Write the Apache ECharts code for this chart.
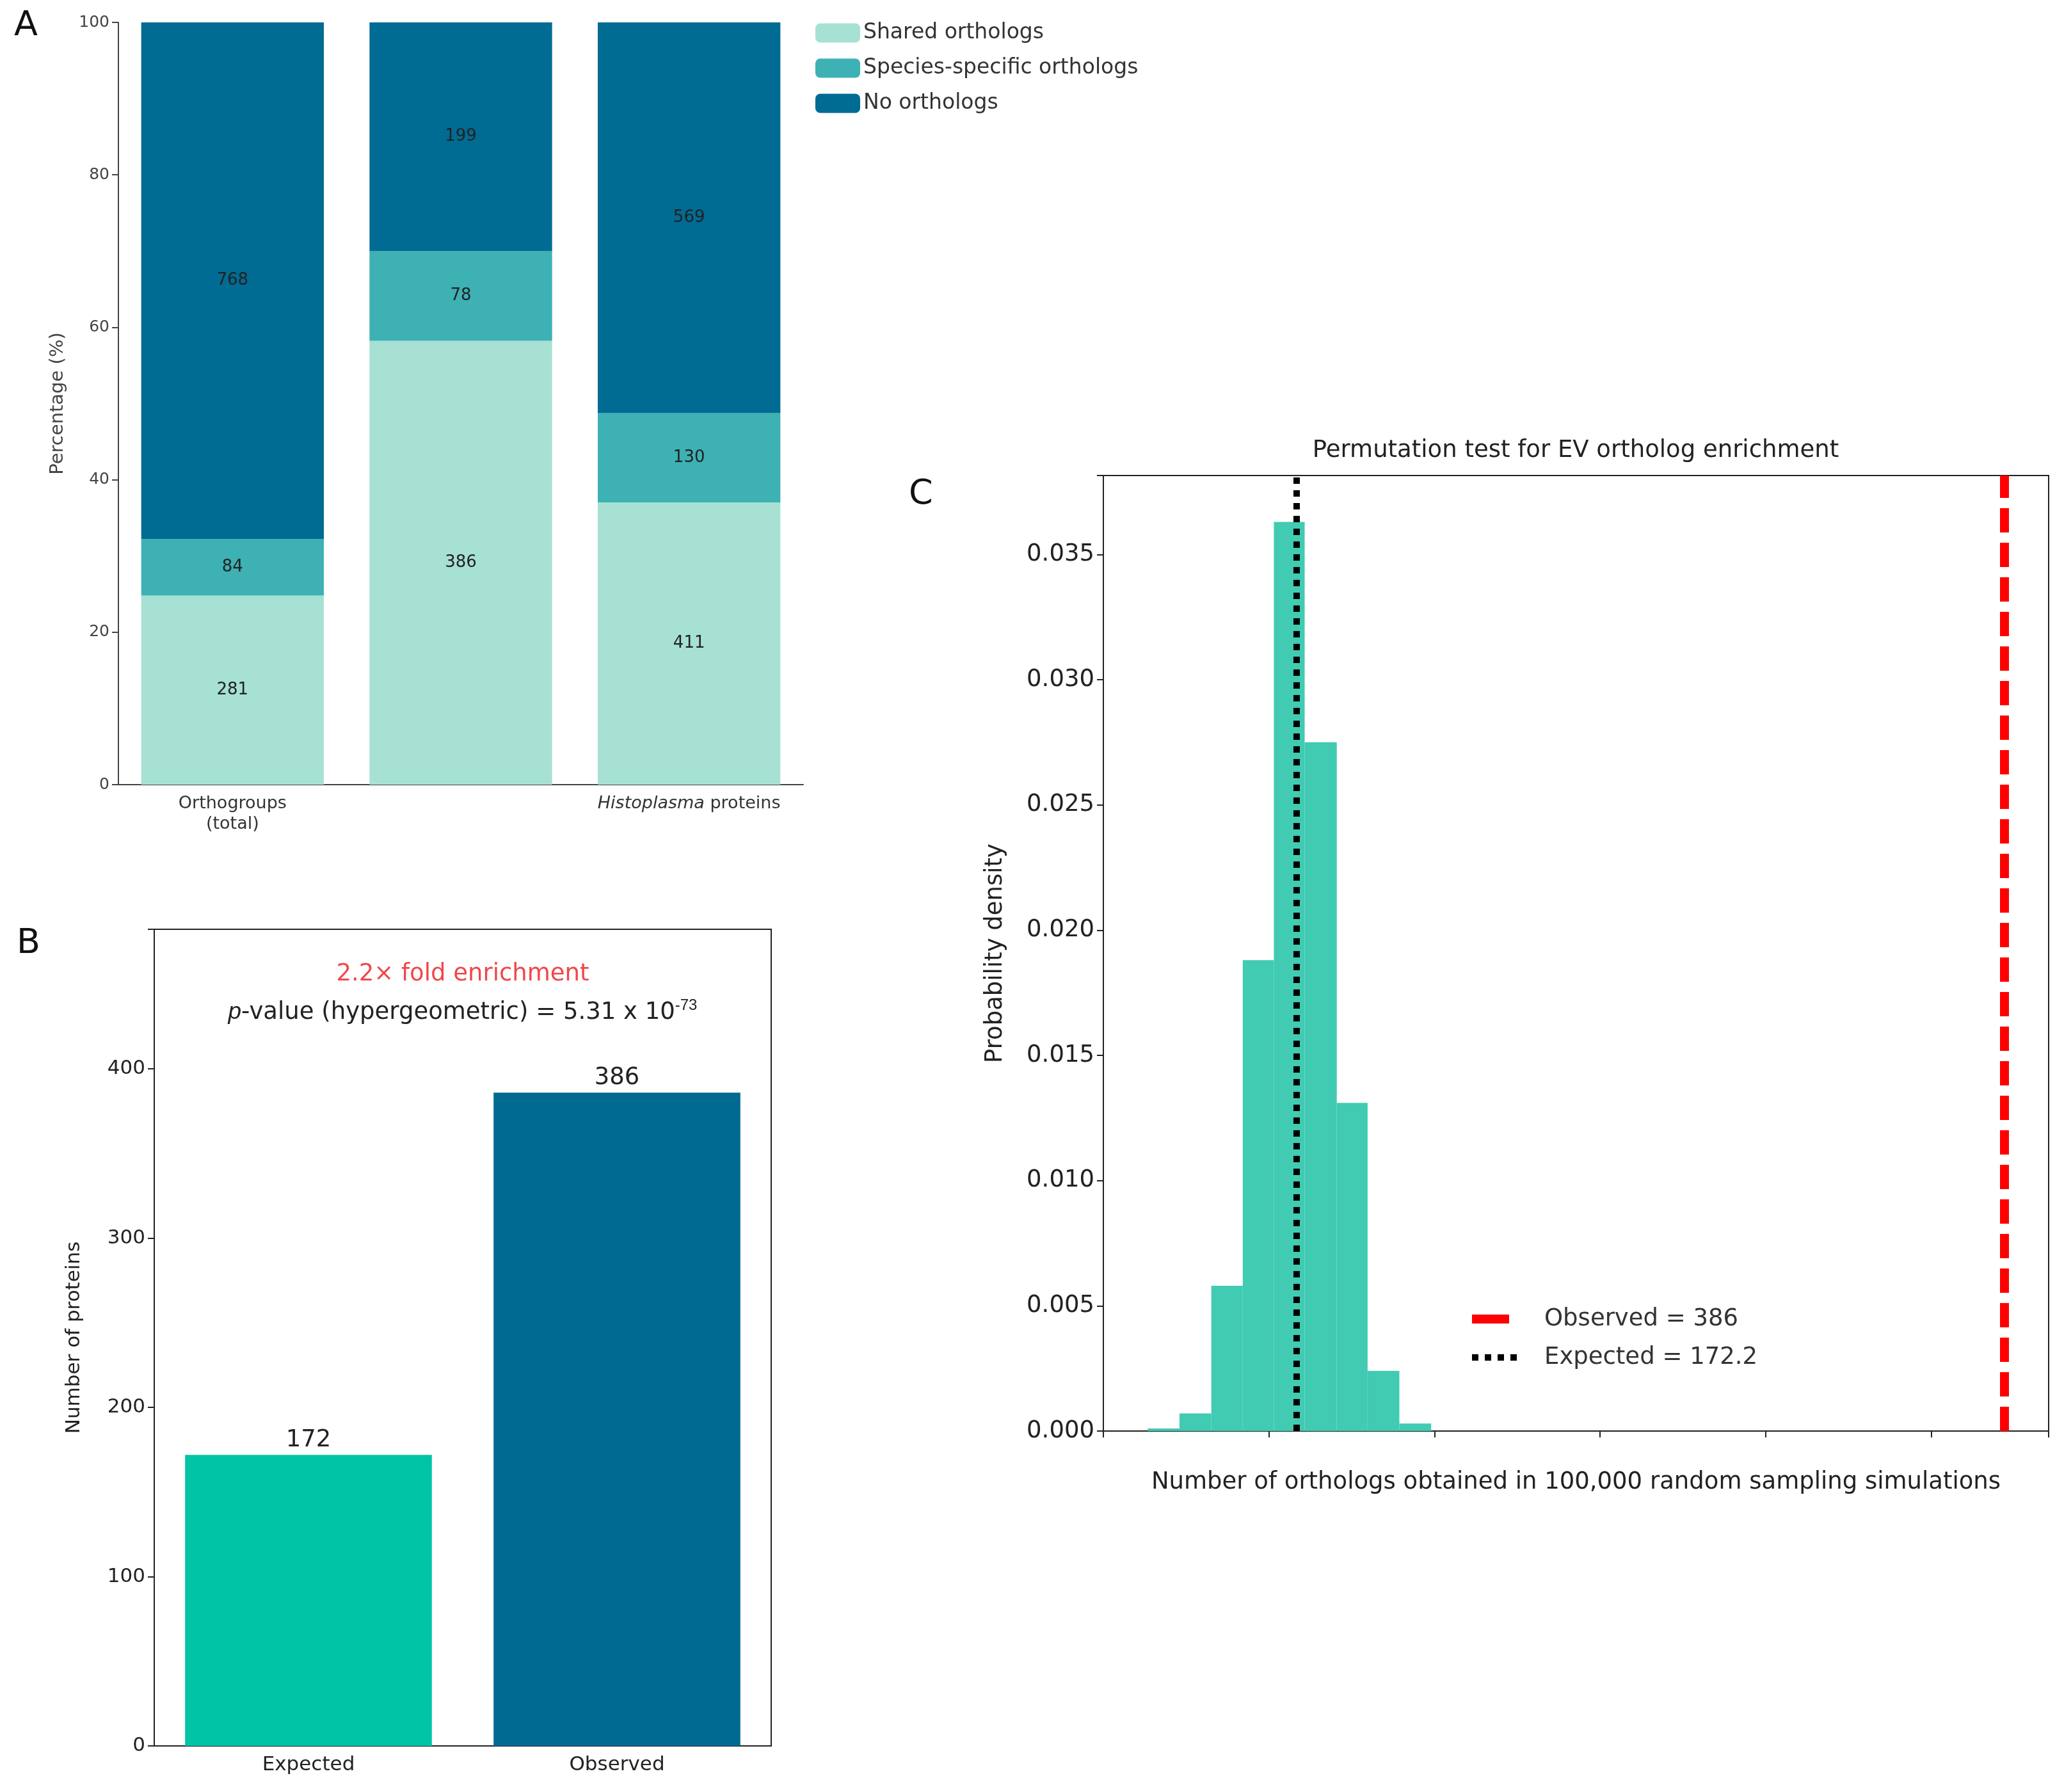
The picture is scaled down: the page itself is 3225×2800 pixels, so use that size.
<!DOCTYPE html>
<html>
<head>
<meta charset="utf-8">
<script src="https://cdn.jsdelivr.net/npm/echarts@6/dist/echarts.min.js"></script>
<style>html,body{margin:0;background:#fff}#main{width:3225px;height:2800px}</style>
</head>
<body>
<div id="main"></div>
<script>
// panel A
const groupNames = ['Orthogroups\n(total)', '{i|Mucor} proteins', '{i|Histoplasma} proteins'];
const sharedCounts = [281, 386, 411];
const specificCounts = [84, 78, 130];
const noOrthoCounts = [768, 199, 569];
// panel B
const enrichCats = ['Expected', 'Observed'];
const enrichValues = [172, 386];
// panel C
const binEdges = [127.2, 136.8, 146.4, 155.9, 165.3, 174.6, 184.3, 193.6, 203.2, 212.8];
const binDensity = [0.0001, 0.0007, 0.0058, 0.0188, 0.0363, 0.0275, 0.0131, 0.0024, 0.0003];
const observedCount = 386;
const expectedCount = 172.2;

const FONT = 'DejaVu Sans';
const totals = sharedCounts.map((v, i) => v + specificCounts[i] + noOrthoCounts[i]);
const pct = arr => arr.map((v, i) => ({ value: v / totals[i] * 100, count: v }));

const chart = echarts.init(document.getElementById('main'));
const stackLabel = { show: true, formatter: p => p.data.count, color: '#222', fontSize: 26, fontFamily: FONT };

const histData = binDensity.map((d, i) => [binEdges[i], binEdges[i + 1], d]);

chart.setOption({
  animation: false,
  textStyle: { fontFamily: FONT },
  grid: [
    { left: 185, top: 35, width: 1070, height: 1191 },
    { left: 241, top: 1452, width: 964, height: 1276, show: true, borderColor: '#222', borderWidth: 2 },
    { left: 1724, top: 743, width: 1477, height: 1493, show: true, borderColor: '#222', borderWidth: 2 }
  ],
  legend: {
    gridIndex: 0, left: 1269, top: 30, orient: 'vertical', itemWidth: 70, itemHeight: 30, itemGap: 22,
    textStyle: { fontSize: 33, color: '#333', fontFamily: FONT },
    data: ['Shared orthologs', 'Species-specific orthologs', 'No orthologs']
  },
  xAxis: [
    {
      gridIndex: 0, type: 'category', data: groupNames,
      axisLine: { lineStyle: { color: '#444', width: 2 } }, axisTick: { alignWithLabel: true, length: 10, lineStyle: { color: '#444', width: 2 } },
      axisLabel: { fontSize: 27, color: '#333', lineHeight: 32, margin: 14, rich: { i: { fontStyle: 'italic', fontSize: 27, color: '#333' } } }
    },
    {
      gridIndex: 1, type: 'category', data: enrichCats,
      axisLine: { lineStyle: { color: '#222', width: 2 } }, axisTick: { alignWithLabel: true, length: 10, lineStyle: { color: '#222', width: 2 } },
      axisLabel: { fontSize: 31, color: '#222', margin: 14 }
    },
    {
      gridIndex: 2, type: 'value', min: 113.8, max: 399.3, interval: 50,
      axisLine: { lineStyle: { color: '#222', width: 2 } }, axisTick: { length: 10, lineStyle: { color: '#222', width: 2 } },
      splitLine: { show: false },
      axisLabel: { fontSize: 37, color: '#222', margin: 14, formatter: v => (v % 50 === 0 ? v : '') },
      name: 'Number of orthologs obtained in 100,000 random sampling simulations', nameLocation: 'middle', nameGap: 62,
      nameTextStyle: { fontSize: 37, color: '#222' }
    }
  ],
  yAxis: [
    {
      gridIndex: 0, type: 'value', min: 0, max: 100, interval: 20,
      axisLine: { show: true, lineStyle: { color: '#444', width: 2 } }, axisTick: { show: true, length: 10, lineStyle: { color: '#444', width: 2 } },
      splitLine: { show: false }, axisLabel: { fontSize: 25, color: '#444', margin: 14 },
      name: 'Percentage (%)', nameLocation: 'middle', nameGap: 80, nameTextStyle: { fontSize: 29, color: '#444' }
    },
    {
      gridIndex: 1, type: 'value', min: 0, max: 482.5, interval: 100,
      axisLine: { show: true, lineStyle: { color: '#222', width: 2 } }, axisTick: { show: true, length: 10, lineStyle: { color: '#222', width: 2 } },
      splitLine: { show: false }, axisLabel: { fontSize: 31, color: '#222', margin: 14, formatter: v => (v % 100 === 0 ? v : '') },
      name: 'Number of proteins', nameLocation: 'middle', nameGap: 110, nameTextStyle: { fontSize: 31, color: '#222' }
    },
    {
      gridIndex: 2, type: 'value', min: 0, max: 0.03815, interval: 0.005,
      axisLine: { show: true, lineStyle: { color: '#222', width: 2 } }, axisTick: { show: true, length: 10, lineStyle: { color: '#222', width: 2 } },
      splitLine: { show: false }, axisLabel: { fontSize: 37, color: '#222', margin: 14, formatter: v => (Math.abs(v / 0.005 - Math.round(v / 0.005)) < 1e-6 ? v.toFixed(3) : '') },
      name: 'Probability density', nameLocation: 'middle', nameGap: 150, nameTextStyle: { fontSize: 37, color: '#222' }
    }
  ],
  series: [
    { name: 'Shared orthologs', type: 'bar', stack: 'a', xAxisIndex: 0, yAxisIndex: 0, barWidth: '80%', data: pct(sharedCounts), itemStyle: { color: '#a6e1d4' }, label: stackLabel },
    { name: 'Species-specific orthologs', type: 'bar', stack: 'a', xAxisIndex: 0, yAxisIndex: 0, data: pct(specificCounts), itemStyle: { color: '#3db1b4' }, label: stackLabel },
    { name: 'No orthologs', type: 'bar', stack: 'a', xAxisIndex: 0, yAxisIndex: 0, data: pct(noOrthoCounts), itemStyle: { color: '#006b93' }, label: stackLabel },
    {
      type: 'bar', xAxisIndex: 1, yAxisIndex: 1, barWidth: '80%',
      data: enrichValues.map((v, i) => ({ value: v, itemStyle: { color: i === 0 ? '#00c4a6' : '#006a91' } })),
      label: { show: true, position: 'top', distance: 4, fontSize: 37, color: '#222' }
    },
    {
      type: 'custom', xAxisIndex: 2, yAxisIndex: 2, data: histData,
      renderItem: (params, api) => {
        const p0 = api.coord([api.value(0), api.value(2)]);
        const p1 = api.coord([api.value(1), 0]);
        return { type: 'rect', shape: { x: p0[0], y: p0[1], width: p1[0] - p0[0], height: p1[1] - p0[1] }, style: { fill: '#40cbb2' } };
      },
      markLine: {
        symbol: 'none', silent: true, label: { show: false },
        data: [
          { xAxis: expectedCount, lineStyle: { color: '#000', width: 10, type: [10, 10] } },
          { xAxis: observedCount, lineStyle: { color: '#f00', width: 14, type: [38, 16] } }
        ]
      }
    }
  ],
  graphic: [
    { type: 'text', left: 22, top: 14, style: { text: 'A', fontSize: 54, fill: '#111', fontFamily: FONT } },
    { type: 'text', left: 26, top: 1448, style: { text: 'B', fontSize: 54, fill: '#111', fontFamily: FONT } },
    { type: 'text', left: 1420, top: 746, style: { text: 'C', fontSize: 54, fill: '#111', fontFamily: FONT } },
    { type: 'text', x: 723, y: 1522, style: { text: '2.2× fold enrichment', fontSize: 37, fill: '#f0474b', align: 'center', verticalAlign: 'middle', fontFamily: FONT } },
    {
      type: 'text', x: 723, y: 1582, style: {
        text: '{i|p}-value (hypergeometric) = 5.31 x 10{s|-73}', fontSize: 37, fill: '#222', align: 'center', verticalAlign: 'middle', fontFamily: FONT,
        rich: { i: { fontStyle: 'italic', fontSize: 37, fill: '#222' }, s: { fontSize: 24, fill: '#222', verticalAlign: 'top', padding: [0, 0, 22, 0] } }
      }
    },
    { type: 'text', x: 2462, y: 704, style: { text: 'Permutation test for EV ortholog enrichment', fontSize: 37, fill: '#222', align: 'center', verticalAlign: 'middle', fontFamily: FONT } },
    { type: 'line', shape: { x1: 2300, y1: 2061, x2: 2358, y2: 2061 }, style: { stroke: '#f00', lineWidth: 14 } },
    { type: 'line', shape: { x1: 2300, y1: 2121, x2: 2380, y2: 2121 }, style: { stroke: '#000', lineWidth: 10, lineDash: [10, 10] } },
    { type: 'text', x: 2413, y: 2061, style: { text: 'Observed = 386', fontSize: 37, fill: '#333', verticalAlign: 'middle', fontFamily: FONT } },
    { type: 'text', x: 2413, y: 2121, style: { text: 'Expected = 172.2', fontSize: 37, fill: '#333', verticalAlign: 'middle', fontFamily: FONT } }
  ]
});
</script>
</body>
</html>
